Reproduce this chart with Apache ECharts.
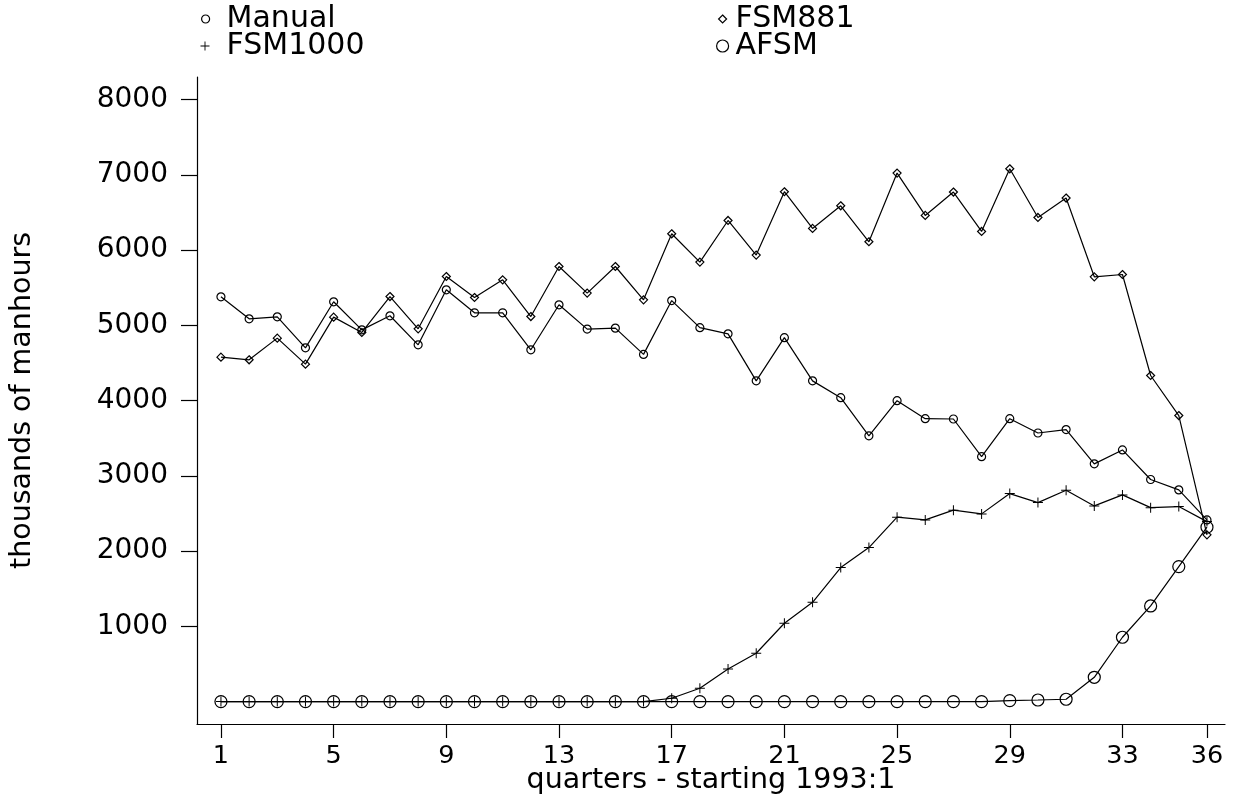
<!DOCTYPE html>
<html>
<head>
<meta charset="utf-8">
<title>manhours by quarter</title>
<script src="https://cdn.jsdelivr.net/npm/echarts@6/dist/echarts.min.js"></script>
<style>
  html, body { margin: 0; padding: 0; background: #fff; }
  #chart { width: 1234px; height: 802px; }
</style>
</head>
<body>
<div id="chart"></div>
<script>
// quarters 1..36, starting 1993:1
const quarters = [1, 2, 3, 4, 5, 6, 7, 8, 9, 10, 11, 12, 13, 14, 15, 16, 17, 18,
  19, 20, 21, 22, 23, 24, 25, 26, 27, 28, 29, 30, 31, 32, 33, 34, 35, 36]

// thousands of manhours
const manual = [5380, 5088, 5114, 4702, 5314, 4941, 5128, 4742, 5473, 5168, 5168, 4676,
  5274, 4951, 4964, 4615, 5330, 4970, 4888, 4263, 4837, 4263, 4040, 3532,
  4000, 3760, 3756, 3255, 3760, 3570, 3615, 3160, 3345, 2952, 2814, 2415]
const fsm881 = [4578, 4543, 4831, 4485, 5110, 4906, 5384, 4955, 5650, 5371, 5606, 5118,
  5783, 5430, 5783, 5340, 6218, 5842, 6395, 5935, 6777, 6289, 6590, 6112,
  7025, 6462, 6773, 6249, 7082, 6435, 6693, 5646, 5677, 4334, 3802, 2216]
const fsm1000 = [0, 0, 0, 0, 0, 0, 0, 0, 0, 0, 0, 0,
  0, 0, 0, 0, 44, 177, 434, 642, 1041, 1320, 1781, 2047,
  2451, 2415, 2544, 2495, 2765, 2645, 2810, 2601, 2747, 2578, 2592, 2392]
const afsm = [0, 0, 0, 0, 0, 0, 0, 0, 0, 0, 0, 0,
  0, 0, 0, 0, 0, 0, 0, 0, 0, 0, 0, 0,
  0, 0, 0, 0, 12, 21, 31, 323, 855, 1271, 1794, 2318]

const xTicks = [1, 5, 9, 13, 17, 21, 25, 29, 33, 36]
const yTicks = [1000, 2000, 3000, 4000, 5000, 6000, 7000, 8000]

const font = 'DejaVu Sans'
const plus = 'path://M0,4.5H10V5.5H0ZM4.5,0H5.5V10H4.5Z'

function pairs(values) {
  return quarters.map((q, i) => [q, values[i]])
}

function lineSeries(name, values, symbol, size, fill) {
  return {
    name: name,
    type: 'line',
    data: pairs(values),
    symbol: symbol,
    symbolSize: size,
    showSymbol: true,
    lineStyle: { color: '#000', width: 1.2 },
    itemStyle: { color: fill, borderColor: '#000', borderWidth: fill === '#000' ? 0 : 1.2 },
    emphasis: { disabled: true }
  }
}

function legendItem(name, icon, size, cx, cy, pad, fill) {
  return {
    data: [{ name: name, icon: icon }],
    left: cx - size / 2,
    top: cy - 15,
    padding: 0,
    itemWidth: size,
    itemHeight: size,
    selectedMode: false,
    itemStyle: { color: fill, borderColor: '#000', borderWidth: fill === '#000' ? 0 : 1.2 },
    textStyle: { fontFamily: font, fontSize: 30, color: '#000', lineHeight: 30, padding: [6, 0, 0, pad] }
  }
}

const chart = echarts.init(document.getElementById('chart'))
chart.setOption({
  animation: false,
  backgroundColor: '#fff',
  grid: { left: 197, right: 9, top: 77, bottom: 78, containLabel: false, outerBoundsMode: 'none' },
  legend: [
    legendItem('Manual', 'circle', 8, 205, 16, 12, 'transparent'),
    legendItem('FSM1000', plus, 9, 205, 43, 12, '#000'),
    legendItem('FSM881', 'diamond', 8, 722, 16, 4, 'transparent'),
    legendItem('AFSM', 'circle', 12, 722, 43, 2, 'transparent')
  ],
  xAxis: {
    type: 'value',
    min: 0.15,
    max: 36.64,
    name: 'quarters - starting 1993:1',
    nameLocation: 'middle',
    nameGap: 42,
    nameMoveOverlap: false,
    nameTextStyle: { fontFamily: font, fontSize: 28.5, color: '#000' },
    axisLine: { show: true, onZero: false, lineStyle: { color: '#000', width: 1.2 } },
    axisTick: { show: true, inside: false, length: 14, customValues: xTicks, lineStyle: { color: '#000', width: 1.2 } },
    axisLabel: { customValues: xTicks, margin: 19, fontFamily: font, fontSize: 25.5, color: '#000' },
    splitLine: { show: false }
  },
  yAxis: {
    type: 'value',
    min: -298,
    max: 8302,
    name: 'thousands of manhours',
    nameLocation: 'middle',
    nameGap: 160,
    nameRotate: 90,
    nameMoveOverlap: false,
    nameTextStyle: { fontFamily: font, fontSize: 28.5, color: '#000' },
    axisLine: { show: true, onZero: false, lineStyle: { color: '#000', width: 1.2 } },
    axisTick: { show: true, inside: false, length: 16, customValues: yTicks, lineStyle: { color: '#000', width: 1.2 } },
    axisLabel: {
      customValues: yTicks,
      margin: 29,
      fontFamily: font,
      fontSize: 28,
      color: '#000',
      formatter: (v) => String(v)
    },
    splitLine: { show: false }
  },
  series: [
    lineSeries('Manual', manual, 'circle', 8, 'transparent'),
    lineSeries('FSM881', fsm881, 'diamond', 8, 'transparent'),
    lineSeries('FSM1000', fsm1000, plus, 10, '#000'),
    lineSeries('AFSM', afsm, 'circle', 12, 'transparent')
  ]
})
</script>
</body>
</html>
